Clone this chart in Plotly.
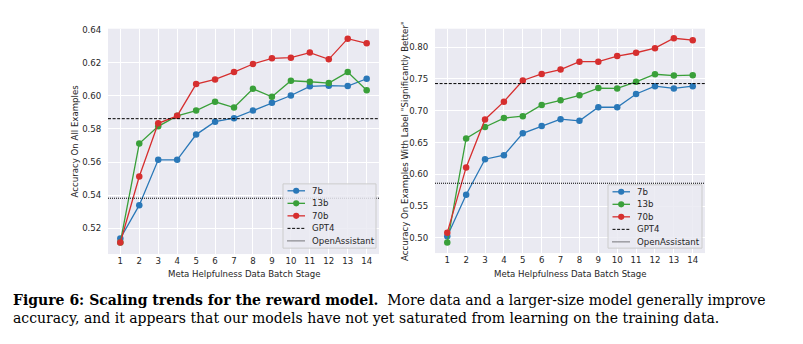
import plotly.graph_objects as go

W, H = 803, 344

stages = list(range(1, 15))
series_names = ["7b", "13b", "70b"]
series_colors = ["#2a78b8", "#3aa03a", "#d62f2f"]

# Left panel: Accuracy On All Examples
left_7b = [0.5139, 0.5340, 0.5614, 0.5614, 0.5766, 0.5844, 0.5865, 0.5911, 0.5958, 0.6002, 0.6057, 0.6061, 0.6059, 0.6103]
left_13b = [0.5115, 0.5712, 0.5816, 0.5879, 0.5911, 0.5964, 0.5929, 0.6042, 0.5994, 0.6091, 0.6085, 0.6077, 0.6143, 0.6034]
left_70b = [0.5115, 0.5513, 0.5834, 0.5879, 0.6071, 0.6099, 0.6143, 0.6192, 0.6226, 0.6230, 0.6261, 0.6220, 0.6345, 0.6317]
left_gpt4 = 0.5862
left_oa = 0.5382

# Right panel: Accuracy On Examples With Label "Significantly Better"
right_7b = [0.5026, 0.5679, 0.6238, 0.6301, 0.6645, 0.6759, 0.6868, 0.6842, 0.7055, 0.7055, 0.7263, 0.7387, 0.7351, 0.7387]
right_13b = [0.4927, 0.6565, 0.6744, 0.6884, 0.6915, 0.7091, 0.7164, 0.7242, 0.7356, 0.7351, 0.7455, 0.7574, 0.7553, 0.7559]
right_70b = [0.5083, 0.6109, 0.6863, 0.7143, 0.7476, 0.7579, 0.7647, 0.7772, 0.7772, 0.7860, 0.7912, 0.7984, 0.8140, 0.8109]
right_gpt4 = 0.7427
right_oa = 0.5860

left_yticks = [0.52, 0.54, 0.56, 0.58, 0.60, 0.62, 0.64]
right_yticks = [0.50, 0.55, 0.60, 0.65, 0.70, 0.75, 0.80]

x_title = "Meta Helpfulness Data Batch Stage"
left_ytitle = "Accuracy On All Examples"
right_ytitle = 'Accuracy On Examples With Label "Significantly Better"'
ref_names = ["GPT4", "OpenAssistant"]

caption1 = "<b>Figure 6: Scaling trends for the reward model.</b>  More data and a larger-size model generally improve"
caption2 = "accuracy, and it appears that our models have not yet saturated from learning on the training data."


def px(x):
    return x / W


def py(y):
    return 1 - y / H


TXT = "#262626"
FONT = "DejaVu Sans"
FS = 8.6

fig = go.Figure()

left_series = [left_7b, left_13b, left_70b]
right_series = [right_7b, right_13b, right_70b]

for vals, name, col in zip(left_series, series_names, series_colors):
    fig.add_trace(go.Scatter(x=stages, y=vals, name=name, mode="lines+markers",
                             line=dict(color=col, width=1.3),
                             marker=dict(color=col, size=6.5),
                             xaxis="x", yaxis="y", showlegend=False))
for vals, name, col in zip(right_series, series_names, series_colors):
    fig.add_trace(go.Scatter(x=stages, y=vals, name=name, mode="lines+markers",
                             line=dict(color=col, width=1.3),
                             marker=dict(color=col, size=6.5),
                             xaxis="x2", yaxis="y2", showlegend=False))

# panels geometry (pixels)
panels = [
    dict(x0=108, x1=379, y0=25, y1=253, xa="x", ya="y", gpt4=left_gpt4, oa=left_oa,
         yr=[0.5045, 0.6405], yt=left_yticks, title=left_ytitle, tx=75,
         leg=(283, 182, 376, 247)),
    dict(x0=435, x1=705, y0=25, y1=252, xa="x2", ya="y2", gpt4=right_gpt4, oa=right_oa,
         yr=[0.4762, 0.829], yt=right_yticks, title=right_ytitle, tx=405,
         leg=(608, 183, 702, 247)),
]

dashes = ["3px,1.6px", "1px,1px"]

shapes = []
annotations = []
layout_axes = {}
for i, p in enumerate(panels):
    xkey = "xaxis" if i == 0 else "xaxis2"
    ykey = "yaxis" if i == 0 else "yaxis2"
    layout_axes[xkey] = dict(
        domain=[px(p["x0"]), px(p["x1"])], anchor=p["ya"],
        range=[stages[0] - 0.05 * (stages[-1] - stages[0]), stages[-1] + 0.05 * (stages[-1] - stages[0])],
        tickmode="array", tickvals=stages, ticktext=[str(s) for s in stages],
        showgrid=True, gridcolor="white", gridwidth=1, zeroline=False, showline=False,
        ticks="", tickfont=dict(family=FONT, size=FS, color=TXT),
    )
    layout_axes[ykey] = dict(
        domain=[py(p["y1"]), py(p["y0"])], anchor=p["xa"],
        range=p["yr"], tickmode="array", tickvals=p["yt"],
        ticktext=["%.2f" % v for v in p["yt"]],
        showgrid=True, gridcolor="white", gridwidth=1, zeroline=False, showline=False,
        ticks="outside", ticklen=4, tickcolor="rgba(0,0,0,0)",
        tickfont=dict(family=FONT, size=FS, color=TXT),
    )
    # reference lines
    for val, dsh in zip([p["gpt4"], p["oa"]], dashes):
        shapes.append(dict(type="line", xref=p["xa"] + " domain", x0=0, x1=1,
                           yref=p["ya"], y0=val, y1=val,
                           line=dict(color="black", width=1, dash=dsh), layer="above"))
    # axis titles
    annotations.append(dict(text=x_title, xref="paper", yref="paper",
                            x=px((p["x0"] + p["x1"]) / 2), y=py(273),
                            xanchor="center", yanchor="middle", showarrow=False,
                            font=dict(family=FONT, size=FS, color=TXT)))
    annotations.append(dict(text=p["title"], xref="paper", yref="paper",
                            x=px(p["tx"]), y=py((p["y0"] + p["y1"]) / 2), textangle=-90,
                            xanchor="center", yanchor="middle", showarrow=False,
                            font=dict(family=FONT, size=FS, color=TXT)))
    # custom legend
    lx0, ly0, lx1, ly1 = p["leg"]
    shapes.append(dict(type="rect", xref="paper", yref="paper",
                       x0=px(lx0), x1=px(lx1), y0=py(ly1), y1=py(ly0),
                       fillcolor="rgba(234,234,242,0.85)", line=dict(color="#cccccc", width=1),
                       layer="above"))
    row0 = ly0 + 7
    step = 12.67
    entries = [(n, c, "solid", True) for n, c in zip(series_names, series_colors)] + \
              [(n, "black", d, False) for n, d in zip(ref_names, dashes)]
    for k, (name, col, dsh, mk) in enumerate(entries):
        yy = row0 + k * step
        shapes.append(dict(type="line", xref="paper", yref="paper",
                           x0=px(lx0 + 4.5), x1=px(lx0 + 22), y0=py(yy), y1=py(yy),
                           line=dict(color=col, width=1.3 if mk else 1, dash=dsh), layer="above"))
        if mk:
            r = 3.1
            cx = lx0 + 13.2
            shapes.append(dict(type="circle", xref="paper", yref="paper",
                               x0=px(cx - r), x1=px(cx + r), y0=py(yy + r), y1=py(yy - r),
                               fillcolor=col, line=dict(width=0), layer="above"))
        annotations.append(dict(text=name, xref="paper", yref="paper",
                                x=px(lx0 + 27), y=py(yy), xanchor="left", yanchor="middle",
                                showarrow=False,
                                font=dict(family=FONT, size=FS, color=TXT)))

# caption (two lines in one text block)
CAPF = "DejaVu Serif"
CAPS = 14.0
annotations.append(dict(text=caption1 + "<br>" + caption2, xref="paper", yref="paper",
                        x=px(11), y=py(309), xanchor="left", yanchor="middle", align="left",
                        showarrow=False,
                        font=dict(family=CAPF, size=CAPS, color="black")))

fig.update_layout(
    width=W, height=H,
    margin=dict(l=0, r=0, t=0, b=0),
    paper_bgcolor="white", plot_bgcolor="#EAEAF2",
    showlegend=False,
    shapes=shapes, annotations=annotations,
    **layout_axes,
)

fig.write_html("out.html")
